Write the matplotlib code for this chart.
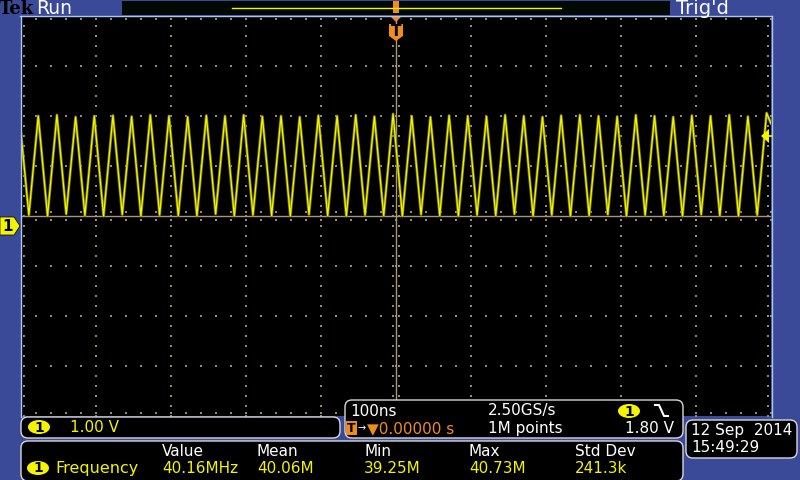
import numpy as np
import matplotlib
matplotlib.use('Agg')
import matplotlib.pyplot as plt
from matplotlib.patches import FancyBboxPatch, Rectangle, Polygon, Ellipse

# ---- Waveform data (read from the screen) -----------------
# time in ns, voltage in V (1.00 V/div, 100 ns/div)
peak_ns = [-477.0, -452.1, -427.2, -402.3, -377.4, -352.5, -327.6, -302.7,
           -277.8, -252.9, -228.0, -203.1, -178.2, -153.3, -128.4, -103.5,
           -78.6, -53.7, -28.8, -3.9, 21.0, 45.9, 70.8, 95.7, 120.6, 145.5,
           170.4, 195.3, 220.2, 245.1, 270.0, 294.9, 319.8, 344.7, 369.6,
           394.5, 419.4, 444.3, 469.2, 494.1]
peak_v = [2.20, 2.22, 2.18, 2.20, 2.21, 2.19, 2.22, 2.20, 2.18, 2.21,
          2.20, 2.22, 2.19, 2.20, 2.18, 2.21, 2.20, 2.22, 2.19, 2.24,
          2.20, 2.18, 2.21, 2.20, 2.19, 2.22, 2.20, 2.18, 2.21, 2.22,
          2.20, 2.19, 2.22, 2.20, 2.18, 2.21, 2.20, 2.22, 2.19, 2.26]
trough_ns = [-489.5, -464.6, -439.7, -414.8, -389.9, -365.0, -340.1, -315.2,
             -290.3, -265.4, -240.5, -215.6, -190.7, -165.8, -140.9, -116.0,
             -91.1, -66.2, -41.3, -16.4, 8.5, 33.4, 58.3, 83.2, 108.1, 133.0,
             157.9, 182.8, 207.7, 232.6, 257.5, 282.4, 307.3, 332.2, 357.1,
             382.0, 406.9, 431.8, 456.7, 481.6]
trough_v = [0.22, 0.20, 0.24, 0.21, 0.20, 0.23, 0.20, 0.22, 0.21, 0.20,
            0.24, 0.20, 0.22, 0.21, 0.20, 0.23, 0.21, 0.20, 0.22, 0.21,
            0.20, 0.23, 0.21, 0.20, 0.22, 0.21, 0.24, 0.20, 0.22, 0.20,
            0.21, 0.23, 0.20, 0.22, 0.21, 0.20, 0.23, 0.21, 0.20, 0.22]
start_pt = (-500.0, 1.85)
end_pt = (500.0, 2.05)

# ---- Readouts ---------------------------------------------
ch_scale = '1.00 V'
time_div = '100ns'
sample_rate = '2.50GS/s'
trig_pos = '0.00000 s'
rec_len = '1M points'
trig_level = '1.80 V'
meas_headers = ['Value', 'Mean', 'Min', 'Max', 'Std Dev']
meas_values = ['40.16MHz', '40.06M', '39.25M', '40.73M', '241.3k']
meas_name = 'Frequency'
date_str = '12 Sep  2014'
time_str = '15:49:29'

BLUE = '#3a4a98'
YEL = '#f4f400'
ORANGE = '#f08c1e'
TAN = '#a89878'
DOT = '#9a8a6a'
EDGE = '#a8c8f0'

fig = plt.figure(figsize=(8, 4.8), dpi=100, facecolor=BLUE)

# ---- Graticule axes ---------------------------------------
ax = fig.add_axes([21 / 800, 1 - 416 / 480, 750 / 800, 400 / 480])
ax.set_facecolor('black')
ax.set_xlim(-500, 500)
ax.set_ylim(-3.8, 4.2)
ax.set_xticks([])
ax.set_yticks([])
for s in ax.spines.values():
    s.set_visible(False)


def dots(x, y):
    ax.scatter(x, y, s=0.7, c=DOT, marker='s', lw=0)


yc = 0.2
xs = np.arange(-500, 501, 20)
ys = np.arange(-3.8, 4.21, 0.2)
# dotted major grid
for gx in range(-400, 500, 100):
    if gx != 0:
        dots(np.full(len(ys), gx), ys)
for k in range(-3, 4):
    if k != 0:
        dots(xs, np.full(len(xs), yc + k))
# edge ticks
for off in (0.06, 7.94):
    dots(xs, np.full(len(xs), -3.8 + off))
for off in (4, 996):
    dots(np.full(len(ys), -500 + off), ys)
# center crosshair with tick marks
ax.axhline(yc, color=TAN, lw=1.0)
ax.axvline(0, color=TAN, lw=1.0)
for d in (-0.08, 0.08):
    dots(xs, np.full(len(xs), yc + d))
for d in (-4.5, 4.5):
    dots(np.full(len(ys), d), ys)

# waveform
pts = sorted(list(zip(peak_ns, peak_v)) + list(zip(trough_ns, trough_v)))
wx = [start_pt[0]] + [p[0] for p in pts] + [end_pt[0]]
wy = [start_pt[1]] + [p[1] for p in pts] + [end_pt[1]]
ax.plot(wx, wy, color='#7a7a00', lw=2.0)
ax.plot(wx, wy, color=YEL, lw=0.9)

# ---- Overlay in pixel coordinates -------------------------
ov = fig.add_axes([0, 0, 1, 1])
ov.set_xlim(0, 800)
ov.set_ylim(480, 0)
ov.axis('off')
ov.patch.set_alpha(0)

# graticule border
ov.plot([20.5, 20.5], [16, 417], color=EDGE, lw=1)
ov.plot([20, 772], [16, 16], color=EDGE, lw=1)
ov.plot([771.5, 771.5], [16, 417], color=EDGE, lw=1)

# top status bar
ov.text(-1, 9, 'Tek', fontsize=13, family='DejaVu Serif', weight='bold',
        color='black', va='center', ha='left')
ov.text(36, 8.5, 'Run', fontsize=13.5, color='white', va='center', ha='left')
ov.add_patch(Rectangle((122, 1), 548, 14, facecolor='#020802', edgecolor='none'))
ov.plot([232, 561], [7.5, 7.5], color=YEL, lw=1)
ov.text(676, 8.5, "Trig'd", fontsize=14, color='white', va='center', ha='left')

# trigger position marker (top)
ov.add_patch(Rectangle((393, 1), 6, 12, facecolor=ORANGE, edgecolor='none'))
ov.add_patch(Polygon([(390, 16), (402, 16), (396, 22)], closed=True, facecolor=ORANGE))
ov.add_patch(Polygon([(389, 24), (403, 24), (403, 36), (396, 41), (389, 36)],
                     closed=True, facecolor=ORANGE))
ov.text(396, 31.5, 'T', fontsize=11, weight='bold', color='black', ha='center', va='center')

# channel 1 ground marker (left)
ov.add_patch(Polygon([(0, 217), (14, 217), (20, 226), (14, 235), (0, 235)],
                     closed=True, facecolor=YEL, edgecolor='black', lw=0.5))
ov.text(8, 226.5, '1', fontsize=11, weight='bold', color='black', ha='center', va='center')

# trigger level marker (right)
ov.add_patch(Polygon([(761, 136), (769, 129), (769, 143)], closed=True, facecolor=YEL))
ov.plot([768, 772], [136, 136], color=YEL, lw=1.2)


def box(x, y, w, h):
    ov.add_patch(FancyBboxPatch((x, y), w, h, boxstyle='round,pad=0,rounding_size=7',
                                facecolor='black', edgecolor='#d8d8d8', lw=1.0))


def badge(cx, cy):
    ov.add_patch(Ellipse((cx, cy), 22, 14, facecolor=YEL, edgecolor='none'))
    ov.text(cx, cy + 0.5, '1', fontsize=10, weight='bold', color='black',
            ha='center', va='center')


# channel readout
box(21, 417, 319, 21)
badge(39, 427)
ov.text(70, 427.5, ch_scale, fontsize=11, color=YEL, va='center', ha='left')

# horizontal / trigger readout
box(345, 400, 338, 38)
ov.text(350, 411, time_div, fontsize=11, color='white', va='center', ha='left')
ov.text(488, 411, sample_rate, fontsize=11, color='white', va='center', ha='left')
badge(629, 411)
ov.plot([655, 659, 664, 668], [405, 405, 416, 416], color='white', lw=1.5)
ov.add_patch(Rectangle((346, 421), 11, 14, facecolor=ORANGE, edgecolor='none'))
ov.text(351.5, 428.5, 'T', fontsize=9, weight='bold', color='black', ha='center', va='center')
ov.text(358, 428.5, '\u2192', fontsize=7, color='white', va='center', ha='left')
ov.text(367, 428.5, '\u25bc' + trig_pos, fontsize=11, color=ORANGE, va='center', ha='left')
ov.text(488, 428.5, rec_len, fontsize=11, color='white', va='center', ha='left')
ov.text(674, 428.5, trig_level, fontsize=11, color='white', va='center', ha='right')

# measurement readout
box(21, 441, 662, 40)
meas_x = [162, 257, 364, 469, 575]
for mx, hd, val in zip(meas_x, meas_headers, meas_values):
    ov.text(mx, 451, hd, fontsize=11, color='white', va='center', ha='left')
    ov.text(mx, 468.5, val, fontsize=11, color=YEL, va='center', ha='left')
badge(38, 468)
ov.text(55, 468.5, meas_name, fontsize=11.5, color=YEL, va='center', ha='left')

# date / time
box(686, 420, 111, 38)
ov.text(691, 431, date_str, fontsize=11, color='white', va='center', ha='left')
ov.text(691, 447.5, time_str, fontsize=11, color='white', va='center', ha='left')

fig.savefig('out.png', dpi=100, facecolor=BLUE)
